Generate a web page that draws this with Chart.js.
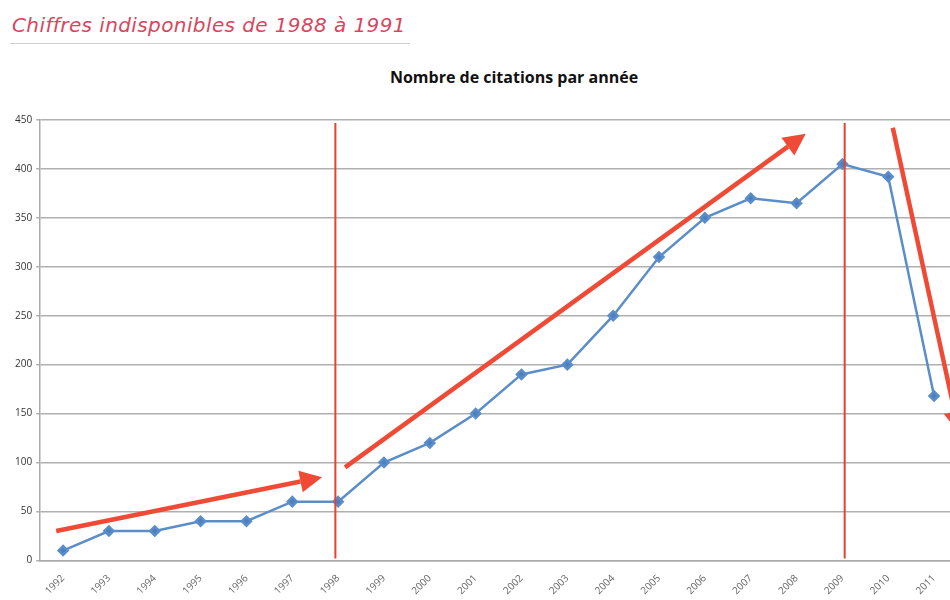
<!DOCTYPE html>
<html>
<head>
<meta charset="utf-8">
<script src="https://cdn.jsdelivr.net/npm/chart.js@4.4.0/dist/chart.umd.min.js"></script>
<style>
    html, body { margin: 0; padding: 0; background: #fff; overflow: hidden; width: 950px; height: 600px; }
    #note {
        position: absolute; left: 10px; top: 13px;
        font-family: "DejaVu Sans"; font-style: italic; font-weight: 300;
        font-size: 20px; color: #d8465e; letter-spacing: 0.4px;
        border-bottom: 1.5px solid #d0d0d0; padding: 0 4px 6px 2px;
    }
    #title {
        position: absolute; left: 0; top: 66px; width: 1028px; text-align: center;
        font-family: "Open Sans"; font-weight: bold; font-size: 16px; color: #111;
    }
    #wrap { position: absolute; left: 0; top: 0; width: 1092px; height: 601px; }
</style>
</head>
<body>
<div id="note">Chiffres indisponibles de 1988 à 1991</div>
<div id="title">Nombre de citations par année</div>
<div id="wrap"><canvas id="chart"></canvas></div>
<script>
const years = ["1992", "1993", "1994", "1995", "1996", "1997", "1998", "1999", "2000", "2001",
    "2002", "2003", "2004", "2005", "2006", "2007", "2008", "2009", "2010", "2011"];
const citations = [10, 30, 30, 40, 40, 60, 60, 100, 120, 150,
    190, 200, 250, 310, 350, 370, 365, 405, 392, 168];
const yTicks = [0, 50, 100, 150, 200, 250, 300, 350, 400, 450];

// annotations in data units: x = category index, y = value
const vLines = [5.94, 17.05];
const arrows = [
    { from: [-0.15, 30], to: [5.65, 85] },
    { from: [6.15, 95], to: [16.2, 436] },
    { from: [18.1, 442], to: [19.55, 130] }
];

const annotationPlugin = {
    id: "annotations",
    afterDatasetsDraw(chart) {
        const ctx = chart.ctx;
        const x = chart.scales.x, y = chart.scales.y;
        ctx.save();
        ctx.strokeStyle = "#e8412e";
        ctx.lineWidth = 2;
        vLines.forEach(v => {
            const px = x.getPixelForValue(v);
            ctx.beginPath();
            ctx.moveTo(px, y.getPixelForValue(447));
            ctx.lineTo(px, y.getPixelForValue(2));
            ctx.stroke();
        });
        ctx.fillStyle = "#ef4a35";
        ctx.strokeStyle = "#ef4a35";
        arrows.forEach(a => {
            const x1 = x.getPixelForValue(a.from[0]), y1 = y.getPixelForValue(a.from[1]);
            const x2 = x.getPixelForValue(a.to[0]), y2 = y.getPixelForValue(a.to[1]);
            const ang = Math.atan2(y2 - y1, x2 - x1);
            const head = 22, half = 11;
            const bx = x2 - head * Math.cos(ang), by = y2 - head * Math.sin(ang);
            ctx.lineWidth = 4.5;
            ctx.beginPath();
            ctx.moveTo(x1, y1);
            ctx.lineTo(bx, by);
            ctx.stroke();
            ctx.beginPath();
            ctx.moveTo(x2, y2);
            ctx.lineTo(bx + half * Math.sin(ang), by - half * Math.cos(ang));
            ctx.lineTo(bx - half * Math.sin(ang), by + half * Math.cos(ang));
            ctx.closePath();
            ctx.fill();
        });
        ctx.restore();
    }
};

new Chart(document.getElementById("chart"), {
    type: "line",
    data: {
        labels: years,
        datasets: [{
            data: citations,
            borderColor: "#5b8dc9",
            backgroundColor: "#4a7fc0",
            borderWidth: 2.5,
            pointStyle: "rectRot",
            pointRadius: 4.5,
            pointHoverRadius: 4.5,
            tension: 0
        }]
    },
    options: {
        responsive: true,
        maintainAspectRatio: false,
        animation: false,
        layout: { padding: { left: 11, right: 135, top: 120, bottom: 0 } },
        plugins: {
            legend: { display: false },
            tooltip: { enabled: false },
            title: { display: false }
        },
        scales: {
            x: {
                offset: true,
                grid: { display: false, drawOnChartArea: false, offset: true },
                border: { color: "#aaa", width: 1.5 },
                ticks: {
                    color: "#666",
                    font: { family: "Open Sans", size: 10 },
                    minRotation: 45, maxRotation: 45,
                    padding: 4
                }
            },
            y: {
                min: 0, max: 450,
                afterBuildTicks(axis) { axis.ticks = yTicks.map(v => ({ value: v })); },
                grid: { color: "#b0b0b0", lineWidth: 1.5, tickLength: 4 },
                border: { color: "#aaa", width: 1.5 },
                ticks: {
                    color: "#333",
                    font: { family: "Open Sans", size: 10 },
                    padding: 4
                }
            }
        }
    },
    plugins: [annotationPlugin]
});
</script>
</body>
</html>
